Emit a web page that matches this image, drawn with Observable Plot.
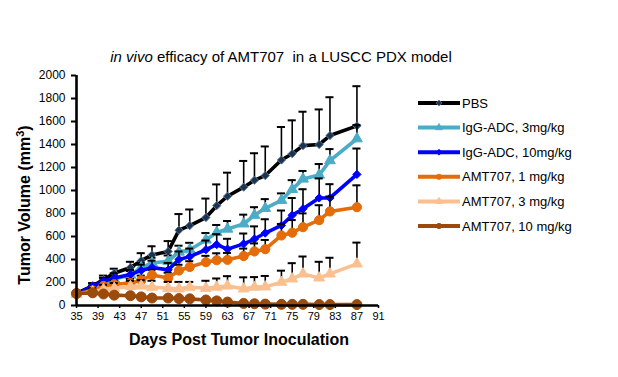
<!DOCTYPE html>
<html>
<head>
<meta charset="utf-8">
<script src="https://cdn.jsdelivr.net/npm/d3@7"></script>
<script src="https://cdn.jsdelivr.net/npm/@observablehq/plot@0.6"></script>
<style>
  html, body { margin: 0; padding: 0; background: #fff; }
  #chart { width: 618px; height: 377px; overflow: hidden; }
</style>
</head>
<body>
<div id="chart"></div>
<script>
// ---- data ----
const days = [35,38,40,42,45,47,49,52,54,56,59,61,63,66,68,70,73,75,77,80,82,87];
const seriesNames = ["PBS", "IgG-ADC, 3mg/kg", "IgG-ADC, 10mg/kg", "AMT707, 1 mg/kg", "AMT707, 3 mg/kg", "AMT707, 10 mg/kg"];
const pbs      = [105,170,225,280,330,390,440,470,655,695,765,868,950,1029,1090,1130,1265,1320,1390,1400,1478,1562];
const pbsErr   = [10,25,35,40,50,65,75,90,140,140,165,185,205,228,234,253,287,290,295,305,333,345];
const igg3     = [100,150,190,230,265,330,370,385,465,485,570,635,665,710,785,845,915,1010,1100,1135,1260,1450];
const igg3Err  = [10,20,25,30,35,40,45,50,55,60,60,65,70,80,70,80,60,80,70,95,100,120];
const igg10    = [100,170,210,240,270,305,330,310,400,425,485,530,490,536,578,630,696,785,841,935,935,1140];
const igg10Err = [10,20,30,40,40,50,60,60,70,70,80,90,90,90,110,120,130,150,170,170,120,225];
const amt1     = [100,130,170,185,195,220,265,240,304,335,377,394,397,430,470,490,609,633,681,742,818,855];
const amt1Err  = [10,20,25,30,35,40,45,45,50,50,55,60,60,65,70,80,100,110,120,130,130,190];
const amt3     = [100,120,140,150,165,170,160,150,145,160,150,160,170,145,160,162,203,232,275,240,275,362];
const amt3Err  = [10,30,40,45,50,50,55,55,60,45,65,75,85,100,87,95,100,136,151,140,140,185];
const amt10    = [105,110,100,90,85,75,65,65,60,58,48,40,30,18,15,12,10,10,10,8,8,8];
const amt10Err = [10,10,10,10,10,10,10,10,10,10,10,10,10,10,10,10,5,5,5,5,5,5];
const xTicks = [35,39,43,47,51,55,59,63,67,71,75,79,83,87,91];
const yTicks = [0,200,400,600,800,1000,1200,1400,1600,1800,2000];

// ---- styles ----
const styles = [
  {color: "#000000", symbol: "diamond2", fill: "#1c3350", stroke: "#5b7796", r: 3.7},
  {color: "#4bacc6", symbol: "triangle", fill: "#4bacc6", stroke: "#4bacc6", r: 4},
  {color: "#0000ff", symbol: "diamond2", fill: "#0000ff", stroke: "#0000ff", r: 3.7},
  {color: "#e46c0a", symbol: "circle",   fill: "#e46c0a", stroke: "#e46c0a", r: 4.6},
  {color: "#fac090", symbol: "triangle", fill: "#fac090", stroke: "#fac090", r: 4},
  {color: "#9c4a0b", symbol: "circle",   fill: "#9c4a0b", stroke: "#9c4a0b", r: 5}
];
const values = [pbs, igg3, igg10, amt1, amt3, amt10];
const errs = [pbsErr, igg3Err, igg10Err, amt1Err, amt3Err, amt10Err];

const rows = seriesNames.map((name, i) =>
  days.map((day, j) => ({series: name, day, v: values[i][j], e: errs[i][j]})));

const seriesMarks = rows.flatMap((data, i) => {
  const s = styles[i];
  return [
    Plot.ruleX(data, {x: "day", y1: "v", y2: d => d.v + d.e, stroke: "black", strokeWidth: 1.6}),
    Plot.ruleY(data, {x1: d => d.day - 0.75, x2: d => d.day + 0.75, y: d => d.v + d.e, stroke: "black", strokeWidth: 2}),
    Plot.line(data, {x: "day", y: "v", stroke: s.color, strokeWidth: 3.6}),
    Plot.dot(data, {x: "day", y: "v", symbol: s.symbol, fill: s.fill, stroke: s.stroke, strokeWidth: 1, r: s.r})
  ];
});

const font = "'Liberation Sans', Arial, sans-serif";
const chart = Plot.plot({
  width: 618,
  height: 377,
  marginLeft: 76,
  marginRight: 240,
  marginTop: 75,
  marginBottom: 72,
  style: {fontFamily: font, fontSize: "11px", color: "#000", background: "#fff", overflow: "visible"},
  x: {domain: [35, 91]},
  y: {domain: [0, 2000]},
  marks: [
    Plot.axisX({ticks: xTicks, tickSize: 3, tickPadding: 4, label: null, fontSize: 11, strokeWidth: 1.5, tickFormat: d => String(d)}),
    Plot.axisY({ticks: yTicks, tickSize: 5, tickPadding: 6, label: null, fontSize: 12, strokeWidth: 2, tickFormat: d => String(d)}),
    ...seriesMarks,
    Plot.ruleX([35], {stroke: "black", strokeWidth: 2.6}),
    Plot.ruleY([0], {stroke: "black", strokeWidth: 2.6})
  ]
});
document.getElementById("chart").appendChild(chart);

// ---- titles and legend ----
const svg = d3.select(chart);
const title = svg.append("text")
  .attr("x", 281).attr("y", 62)
  .attr("text-anchor", "middle")
  .style("font-family", font).style("font-size", "15px").attr("fill", "#000");
title.append("tspan").style("font-style", "italic").text("in vivo");
title.append("tspan").text(" efficacy of AMT707\u00a0 in a LUSCC PDX model");

svg.append("text")
  .attr("x", 239).attr("y", 345)
  .attr("text-anchor", "middle")
  .style("font-family", font).style("font-size", "16px").style("font-weight", "bold")
  .text("Days Post Tumor Inoculation");

const yt = svg.append("text")
  .attr("transform", "translate(30,205) rotate(-90)")
  .attr("text-anchor", "middle")
  .style("font-family", font).style("font-size", "16px").style("font-weight", "bold");
yt.append("tspan").text("Tumor Volume (mm");
yt.append("tspan").attr("dy", "-6").style("font-size", "11px").text("3");
yt.append("tspan").attr("dy", "6").text(")");

const symbolTypes = {diamond2: d3.symbolDiamond2, triangle: d3.symbolTriangle, circle: d3.symbolCircle};
const legend = svg.append("g").attr("text-anchor", "start");
seriesNames.forEach((name, i) => {
  const s = styles[i];
  const y = 103 + i * 24.6;
  legend.append("line").attr("x1", 418).attr("x2", 460).attr("y1", y).attr("y2", y)
    .attr("stroke", s.color).attr("stroke-width", 4);
  legend.append("path").attr("d", d3.symbol(symbolTypes[s.symbol], 22)())
    .attr("transform", `translate(439,${y})`).attr("fill", s.fill).attr("stroke", s.stroke).attr("stroke-width", 0.8);
  legend.append("text").attr("x", 462).attr("y", y).attr("dy", "0.35em")
    .attr("text-anchor", "start")
    .style("font-family", font).style("font-size", "13px").attr("fill", "#000").text(name);
});
</script>
</body>
</html>
